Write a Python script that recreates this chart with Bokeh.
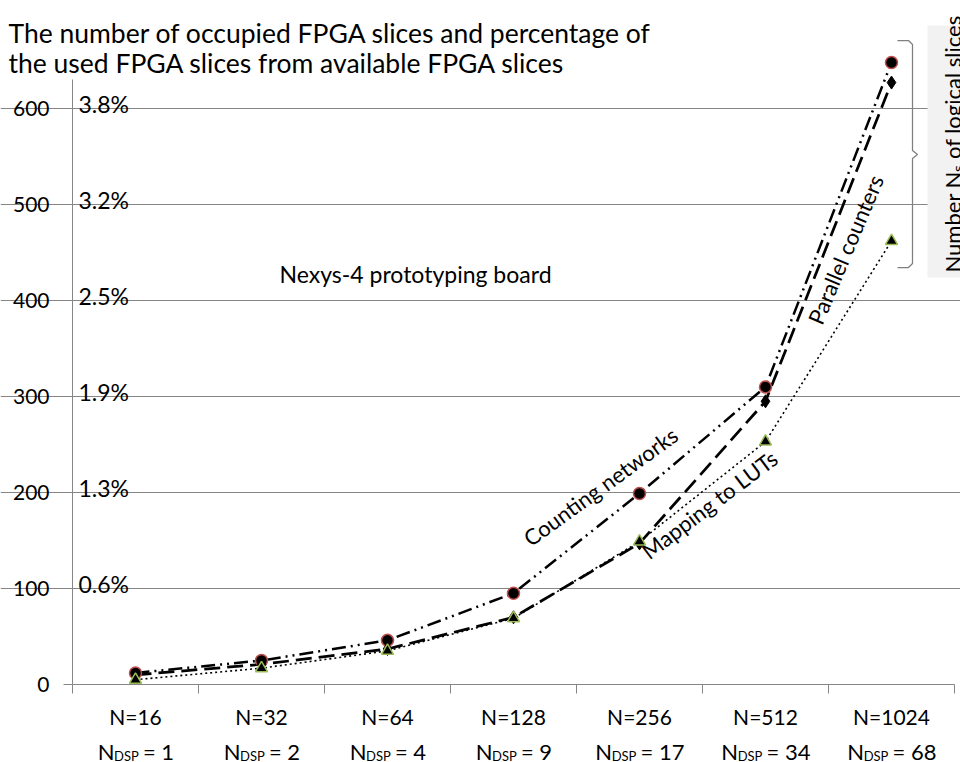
from bokeh.plotting import figure
from bokeh.models import Range1d, FixedTicker, Label
from bokeh.core.properties import value
from bokeh.embed import file_html
from bokeh.resources import INLINE

# ---------------- data ----------------
categories = ["N=16", "N=32", "N=64", "N=128", "N=256", "N=512", "N=1024"]
n_dsp = ["1", "2", "4", "9", "17", "34", "68"]
counting_networks = [12, 25, 46, 95, 199, 310, 648]
parallel_counters = [10, 21, 37, 70, 147, 295, 627]
mapping_to_luts = [5, 17, 35, 69, 149, 253, 462]
y_ticks = [0, 100, 200, 300, 400, 500, 600]
pct_ticks = [100, 200, 300, 400, 500, 600]
pct_labels = ["0.6%", "1.3%", "1.9%", "2.5%", "3.2%", "3.8%"]

title_lines = ["The number of occupied FPGA slices and percentage of",
               "the used FPGA slices from available FPGA slices"]

FONT = "Lato"
GRAY = "#868686"
W, H = 960, 762
X0_PX, Y0_PX = 72, 684            # page position of the plot origin (left edge of first category, value 0)
CAT_W, Y_PX = 126, 0.96           # px per category, px per unit


def dx(px):
    return (px - X0_PX) / CAT_W - 0.5


def dy(py):
    return (Y0_PX - py) / Y_PX


xs = list(range(len(categories)))

# the frame spans the whole canvas; axes are pinned inside it so that all texts can be drawn
p = figure(width=W, height=H,
           x_range=Range1d(dx(0), dx(W)),
           y_range=Range1d(dy(H), dy(0)),
           output_backend="svg", toolbar_location=None,
           min_border_left=0, min_border_right=0, min_border_top=0, min_border_bottom=0)
p.outline_line_color = None
p.background_fill_color = "white"
p.border_fill_color = "white"

# x axis: labels at category centres, tick marks between categories
p.xaxis.fixed_location = 0
p.xaxis.ticker = FixedTicker(ticks=xs, minor_ticks=[i - 0.5 for i in range(len(categories) + 1)])
p.xaxis.major_label_overrides = {i: c for i, c in enumerate(categories)}
p.xaxis.bounds = (-0.5, len(categories) - 0.5)
p.xaxis.major_tick_line_color = None
p.xaxis.major_tick_out = 9
p.xaxis.major_tick_in = 0
p.xaxis.minor_tick_out = 9
p.xaxis.minor_tick_in = 0
p.xaxis.minor_tick_line_color = GRAY
p.xaxis.axis_line_color = GRAY
p.xaxis.major_label_standoff = 10
p.xaxis.major_label_text_font = FONT
p.xaxis.major_label_text_font_size = "21px"
p.xaxis.major_label_text_color = "black"

# y axis
p.yaxis.fixed_location = -0.5
p.yaxis.ticker = FixedTicker(ticks=y_ticks, minor_ticks=[])
p.yaxis.bounds = (0, 630)
p.yaxis.major_tick_out = 9
p.yaxis.major_tick_in = 0
p.yaxis.major_tick_line_color = GRAY
p.yaxis.axis_line_color = GRAY
p.yaxis.major_label_standoff = 14
p.yaxis.major_label_text_font = FONT
p.yaxis.major_label_text_font_size = "21px"
p.yaxis.major_label_text_color = "black"

p.xgrid.visible = False
p.ygrid.ticker = FixedTicker(ticks=pct_ticks)
p.ygrid.bounds = (-0.5, len(categories) - 0.5)
p.ygrid.grid_line_color = GRAY
p.ygrid.grid_line_width = 1

# percentage labels above gridlines
p.text(x=[-0.5] * len(pct_ticks), y=pct_ticks, text=pct_labels, x_offset=6, y_offset=-5,
       text_baseline="alphabetic", text_align="left", text_font=value(FONT),
       text_font_size="23px", text_color="black")

# series lines
p.line(xs, counting_networks, line_color="black", line_width=2.5, line_dash="14 5 2 5 2 5")
p.line(xs, parallel_counters, line_color="black", line_width=2.75, line_dash="16 7")
p.line(xs, mapping_to_luts, line_color="black", line_width=1.6, line_dash="2 3")

# markers
p.scatter(xs, counting_networks, marker="circle", size=12, fill_color="black",
          line_color="#c0504d", line_width=1.5)
p.scatter(xs, parallel_counters, marker="diamond", size=13, fill_color="black",
          line_color="black", line_width=1)
p.scatter(xs, mapping_to_luts, marker="triangle", size=12, fill_color="black",
          line_color="#9bbb59", line_width=1.5)


def lab(text, px, py, size="22px", angle=0, align="left", baseline="alphabetic"):
    """Label placed at a page-pixel position (converted to data units)."""
    p.add_layout(Label(x=dx(px), y=dy(py), text=text, angle=angle, angle_units="deg",
                       text_align=align, text_baseline=baseline, text_font=FONT,
                       text_font_size=size, text_color="black"))


# title
lab(title_lines[0], 8, 32, size="26.5px")
lab(title_lines[1], 8, 62, size="26.5px")

# annotations
lab("Nexys-4 prototyping board", 279, 273, size="23px")
lab("Counting networks", 600, 486, angle=36, align="center", baseline="middle")
lab("Mapping to LUTs", 709, 504, angle=37, align="center", baseline="middle")
lab("Parallel counters", 845, 249, size="22px", angle=67, align="center", baseline="middle")

# right-hand bracket and label box
bx = [897, 908, 912, 912, 917, 912, 912, 908, 897]
by = [40, 40, 44, 150, 154, 158, 263, 267, 267]
p.line([dx(v) for v in bx], [dy(v) for v in by], line_color="#7f7f7f", line_width=1.25)
p.quad(left=[dx(927)], right=[dx(965)], top=[dy(25)], bottom=[dy(277)],
       fill_color="#f2f2f2", line_color=None)
lab("Number N\u209b of logical slices", 952, 272, size="22px", angle=90)

# second row of category labels: N_DSP = k (subscript drawn smaller and lower)
FS, FSUB = 22, 13
wN = 0.74 * FS
wDSP = 1.75 * FSUB
for i, v in enumerate(n_dsp):
    cx = X0_PX + (i + 0.5) * CAT_W
    wEq = (0.28 + 0.58 + 0.22 + 0.58 * len(v)) * FS
    start = cx - (wN + wDSP + wEq) / 2
    lab("N", start, 751, size=f"{FS}px")
    lab("DSP", start + wN, 755, size=f"{FSUB}px")
    lab("= " + v, start + wN + wDSP + 0.28 * FS, 751, size=f"{FS}px")

open("out.html", "w").write(file_html(p, INLINE))
